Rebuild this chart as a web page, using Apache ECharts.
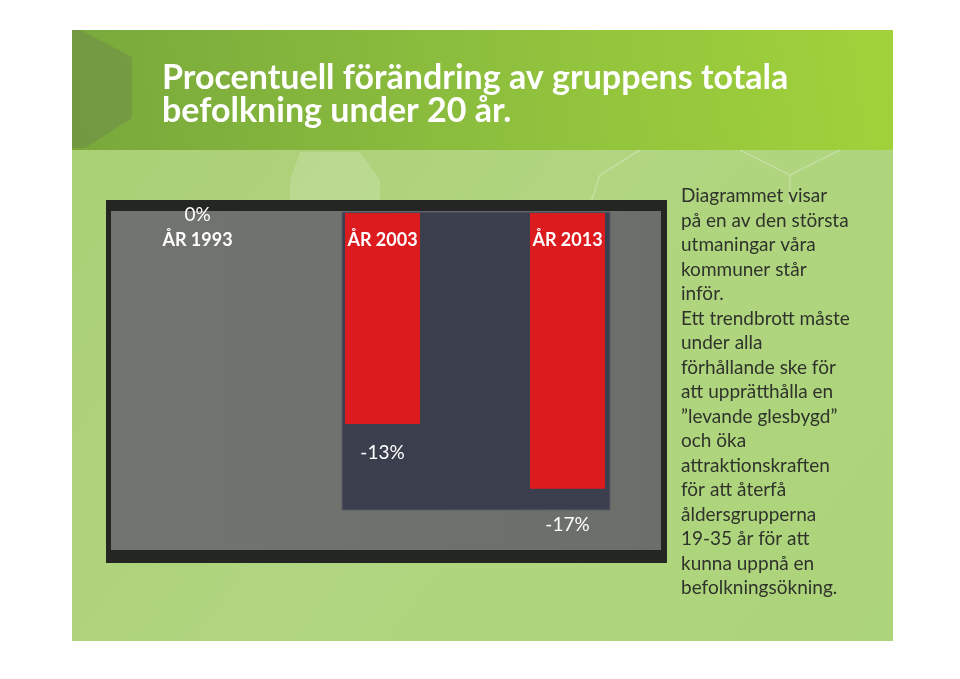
<!DOCTYPE html>
<html>
<head>
<meta charset="utf-8">
<script src="https://cdn.jsdelivr.net/npm/echarts@6/dist/echarts.min.js"></script>
<style>
html,body{margin:0;padding:0;background:#ffffff;}
#chart{width:960px;height:679px;}
</style>
</head>
<body>
<div id="chart"></div>
<script>
// ---- data ----
const categories = ['ÅR 1993', 'ÅR 2003', 'ÅR 2013'];
const values = [0, -13, -17];
const valueLabels = ['0%', '-13%', '-17%'];
const titleLines = ['Procentuell förändring av gruppens totala', 'befolkning under 20 år.'];
const sideTextLines = [
  'Diagrammet visar',
  'på en av den största',
  'utmaningar våra',
  'kommuner står',
  'inför.',
  'Ett trendbrott måste',
  'under alla',
  'förhållande ske för',
  'att upprätthålla en',
  '”levande glesbygd”',
  'och öka',
  'attraktionskraften',
  'för att återfå',
  'åldersgrupperna',
  '19-35 år för att',
  'kunna uppnå en',
  'befolkningsökning.'
];

const chart = echarts.init(document.getElementById('chart'));

const labelOffsets = [[0, -12], [0, 15], [0, 23]];

const option = {
  backgroundColor: '#ffffff',
  animation: false,
  graphic: [
    { type: 'rect', z: -100, shape: { x: 72, y: 30, width: 821, height: 611 },
      style: { fill: new echarts.graphic.LinearGradient(0, 0, 1, 1, [
        { offset: 0, color: '#a9cf74' }, { offset: 0.5, color: '#b1d580' }, { offset: 1, color: '#acd47a' }]) } },
    { type: 'rect', z: -99, shape: { x: 72, y: 30, width: 821, height: 120 },
      style: { fill: new echarts.graphic.LinearGradient(0, 1, 1, 0, [
        { offset: 0, color: '#78a83b' }, { offset: 0.55, color: '#8fc13e' }, { offset: 1, color: '#a2d23a' }]) } },
    { type: 'polygon', z: -98, shape: { points: [[72, 30], [80, 30], [132, 57], [132, 118], [85, 148], [72, 148]] },
      style: { fill: 'rgba(105,130,80,0.38)' } },
    { type: 'polygon', z: -97, shape: { points: [[300, 152], [360, 152], [380, 180], [380, 205], [290, 205], [290, 180]] },
      style: { fill: 'rgba(255,255,255,0.16)' } },
    { type: 'polyline', z: -97, shape: { points: [[590, 205], [600, 175], [640, 150]] },
      style: { stroke: 'rgba(255,255,255,0.25)', lineWidth: 1.5, fill: null } },
    { type: 'polyline', z: -97, shape: { points: [[740, 150], [790, 175], [840, 150]] },
      style: { stroke: 'rgba(255,255,255,0.25)', lineWidth: 1.5, fill: null } },
    { type: 'polyline', z: -97, shape: { points: [[790, 175], [790, 205]] },
      style: { stroke: 'rgba(255,255,255,0.25)', lineWidth: 1.5, fill: null } },
    { type: 'rect', z: -90, shape: { x: 106, y: 200, width: 561, height: 363 },
      style: { fill: '#232622' } },
    { type: 'rect', z: -89, shape: { x: 111, y: 211, width: 550, height: 339 },
      style: { fill: new echarts.graphic.LinearGradient(0, 0, 1, 0, [
        { offset: 0, color: '#72756f' }, { offset: 1, color: '#6b6e69' }]) } },
    { type: 'rect', z: -88, shape: { x: 342, y: 212, width: 268, height: 298 },
      style: { fill: '#3b3f4d', stroke: '#5a5e68', lineWidth: 1 } },
    { type: 'text', z: 10, left: 681, top: 184,
      style: { text: sideTextLines.join('\n'), font: '19px Lato, "Liberation Sans", sans-serif',
        fill: '#2f332b', lineHeight: 24.5 } }
  ],
  title: {
    text: titleLines.join('\n'),
    left: 157, top: 57,
    textStyle: { color: '#ffffff', fontFamily: 'Lato, "Liberation Sans", sans-serif',
      fontSize: 34, fontWeight: 'bold', lineHeight: 33 }
  },
  grid: { left: 105, top: 213, width: 555, height: 292 },
  xAxis: {
    type: 'category', data: categories, position: 'top',
    axisLine: { show: false }, axisTick: { show: false },
    axisLabel: { inside: true, margin: 18, color: '#ffffff', fontSize: 18, fontWeight: 'bold',
      fontFamily: 'Lato, "Liberation Sans", sans-serif' },
    z: 10
  },
  yAxis: {
    type: 'value', min: -18, max: 0, interval: 6,
    show: false
  },
  series: [{
    type: 'bar',
    data: values.map((v, i) => ({
      value: v,
      label: { offset: labelOffsets[i] }
    })),
    barWidth: 75,
    itemStyle: { color: '#dc1b1f' },
    label: {
      show: true, position: 'bottom', distance: 4,
      color: '#ffffff', fontSize: 19, fontFamily: 'Lato, "Liberation Sans", sans-serif',
      formatter: p => valueLabels[p.dataIndex]
    }
  }]
};
chart.setOption(option);
</script>
</body>
</html>
